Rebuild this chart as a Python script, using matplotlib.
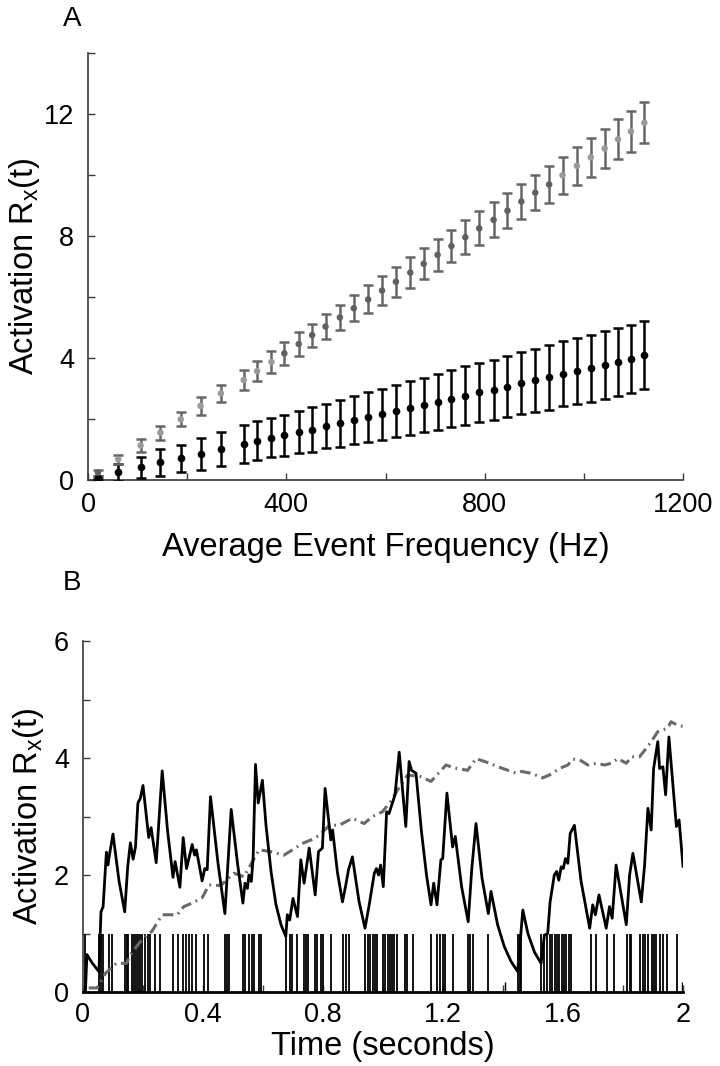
import matplotlib
matplotlib.use("Agg")
import matplotlib.pyplot as plt
from matplotlib.ticker import MultipleLocator

plt.rcParams['font.family'] = ['Liberation Sans', 'DejaVu Sans']
plt.rcParams['mathtext.default'] = 'regular'

# ---------------- Panel A data ----------------
freq_hz = [20, 61, 106, 146, 187, 227, 268, 314, 341, 370, 396, 425, 452, 479, 508, 536,
           565, 593, 621, 650, 677, 705, 733, 761, 789, 818, 846, 874, 902, 930, 957, 986,
           1014, 1042, 1069, 1095, 1122]
gray_mean = [0.24, 0.68, 1.13, 1.55, 1.99, 2.43, 2.84, 3.28, 3.57, 3.87, 4.15, 4.46, 4.75, 5.03,
             5.33, 5.63, 5.92, 6.21, 6.50, 6.80, 7.09, 7.38, 7.67, 7.96, 8.25, 8.53, 8.83, 9.13,
             9.42, 9.69, 9.99, 10.30, 10.58, 10.87, 11.17, 11.43, 11.71]
gray_err = [0.10, 0.15, 0.20, 0.23, 0.23, 0.29, 0.29, 0.32, 0.34, 0.35, 0.38, 0.39, 0.38, 0.40,
            0.41, 0.42, 0.46, 0.48, 0.49, 0.50, 0.51, 0.52, 0.53, 0.55, 0.56, 0.57, 0.57, 0.57,
            0.58, 0.60, 0.60, 0.62, 0.63, 0.64, 0.65, 0.66, 0.67]
black_mean = [0.08, 0.25, 0.42, 0.58, 0.71, 0.85, 1.02, 1.17, 1.28, 1.38, 1.46, 1.56, 1.65, 1.77,
              1.86, 1.97, 2.06, 2.16, 2.27, 2.37, 2.47, 2.57, 2.67, 2.77, 2.87, 2.96, 3.06, 3.17,
              3.27, 3.37, 3.48, 3.57, 3.67, 3.77, 3.87, 3.97, 4.10]
black_err = [0.05, 0.27, 0.35, 0.45, 0.45, 0.53, 0.56, 0.62, 0.64, 0.64, 0.68, 0.69, 0.73, 0.73,
             0.77, 0.79, 0.82, 0.84, 0.85, 0.89, 0.89, 0.92, 0.94, 0.96, 0.98, 0.99, 1.01, 1.02,
             1.03, 1.06, 1.07, 1.08, 1.10, 1.12, 1.13, 1.12, 1.12]
light_idx = [1, 2, 3, 4, 5, 6, 7, 8, 9, 30, 31, 32, 33, 34, 35, 36]

# ---------------- Panel B data ----------------
spike_times = [0.008, 0.053, 0.060, 0.067, 0.088, 0.095, 0.140, 0.145, 0.150, 0.163, 0.170,
               0.176, 0.182, 0.189, 0.196, 0.205, 0.215, 0.224, 0.240, 0.255, 0.300, 0.318,
               0.332, 0.344, 0.353, 0.363, 0.376, 0.404, 0.415, 0.474, 0.480, 0.486, 0.532,
               0.541, 0.553, 0.562, 0.570, 0.585, 0.593, 0.676, 0.689, 0.698, 0.714, 0.735,
               0.743, 0.749, 0.774, 0.781, 0.792, 0.800, 0.826, 0.865, 0.876, 0.887, 0.941,
               0.949, 0.956, 0.965, 0.974, 0.981, 1.001, 1.008, 1.016, 1.023, 1.030, 1.037,
               1.045, 1.074, 1.081, 1.100, 1.160, 1.181, 1.189, 1.200, 1.207, 1.233, 1.284,
               1.290, 1.301, 1.351, 1.449, 1.455, 1.460, 1.528, 1.538, 1.548, 1.556, 1.564,
               1.573, 1.580, 1.587, 1.595, 1.603, 1.611, 1.620, 1.628, 1.692, 1.710, 1.746,
               1.771, 1.814, 1.822, 1.828, 1.858, 1.866, 1.874, 1.882, 1.895, 1.902, 1.911,
               1.922, 1.933, 1.947, 1.981]
short_spike_times = [1.406, 1.998]

trace_t = [0.0, 0.008, 0.013, 0.030, 0.053, 0.060, 0.067, 0.078, 0.083, 0.088, 0.100, 0.120,
           0.139, 0.149, 0.158, 0.167, 0.175, 0.183, 0.191, 0.200, 0.219, 0.227, 0.244, 0.264,
           0.282, 0.300, 0.307, 0.323, 0.334, 0.345, 0.364, 0.372, 0.378, 0.397, 0.406, 0.414,
           0.425, 0.450, 0.473, 0.494, 0.515, 0.533, 0.540, 0.548, 0.553, 0.561, 0.567, 0.575,
           0.584, 0.598, 0.610, 0.627, 0.643, 0.660, 0.676, 0.681, 0.689, 0.700, 0.715, 0.726,
           0.737, 0.754, 0.774, 0.785, 0.798, 0.807, 0.826, 0.832, 0.848, 0.865, 0.876, 0.885,
           0.898, 0.920, 0.940, 0.954, 0.971, 0.978, 0.985, 0.992, 1.001, 1.012, 1.020, 1.040,
           1.054, 1.076, 1.087, 1.095, 1.110, 1.128, 1.145, 1.160, 1.169, 1.180, 1.193, 1.199,
           1.213, 1.232, 1.241, 1.262, 1.284, 1.296, 1.310, 1.330, 1.351, 1.360, 1.382, 1.404,
           1.427, 1.449, 1.466, 1.483, 1.505, 1.527, 1.538, 1.549, 1.557, 1.571, 1.579, 1.586,
           1.594, 1.601, 1.608, 1.616, 1.624, 1.638, 1.660, 1.689, 1.699, 1.708, 1.720, 1.744,
           1.755, 1.764, 1.777, 1.811, 1.822, 1.833, 1.861, 1.872, 1.883, 1.894, 1.902, 1.916,
           1.922, 1.933, 1.942, 1.953, 1.978, 1.987, 2.000]
trace_v = [0.0, 0.0, 0.64, 0.50, 0.35, 1.37, 1.46, 2.39, 2.17, 2.34, 2.70, 1.90,
           1.37, 2.14, 2.55, 2.27, 2.48, 3.23, 3.31, 3.53, 2.64, 2.81, 2.21, 3.78,
           2.75, 1.96, 2.23, 1.79, 2.64, 2.11, 2.52, 2.34, 2.43, 1.90, 2.11, 2.09,
           3.34, 2.20, 1.34, 3.12, 2.20, 1.52, 1.86, 1.77, 2.00, 1.89, 2.28, 3.89,
           3.23, 3.62, 2.85, 2.05, 1.50, 1.15, 0.95, 1.32, 1.23, 1.60, 1.29, 2.26,
           1.86, 2.46, 1.66, 2.40, 2.46, 3.48, 2.60, 2.77, 2.05, 1.54, 1.83, 2.09,
           2.31, 1.55, 1.09, 1.49, 2.03, 2.11, 2.00, 2.17, 1.80, 3.08, 3.05, 3.37,
           4.10, 2.83, 3.94, 3.79, 3.74, 2.75, 2.00, 1.49, 1.86, 1.49, 2.26, 2.28,
           3.40, 2.48, 2.66, 1.80, 1.20, 2.11, 2.88, 1.95, 1.34, 1.72, 1.15, 0.78,
           0.52, 0.35, 1.40, 1.00, 0.68, 0.49, 0.97, 1.00, 1.54, 2.00, 2.06, 1.91,
           2.14, 2.11, 2.28, 2.20, 2.71, 2.85, 1.90, 1.09, 1.49, 1.32, 1.66, 1.09,
           1.46, 1.26, 2.17, 1.15, 2.00, 2.37, 1.54, 2.17, 3.14, 2.77, 3.82, 4.28,
           3.82, 3.85, 3.37, 4.36, 2.83, 2.94, 2.15]

mean_t = [0.019, 0.047, 0.075, 0.111, 0.145, 0.158, 0.191, 0.230, 0.264, 0.314, 0.336, 0.364,
          0.397, 0.420, 0.459, 0.503, 0.537, 0.570, 0.587, 0.625, 0.670, 0.698, 0.732, 0.760,
          0.788, 0.821, 0.854, 0.898, 0.937, 0.965, 0.998, 1.029, 1.048, 1.082, 1.126, 1.160,
          1.210, 1.238, 1.282, 1.310, 1.350, 1.394, 1.444, 1.461, 1.494, 1.532, 1.555, 1.588,
          1.616, 1.633, 1.655, 1.683, 1.711, 1.739, 1.761, 1.783, 1.811, 1.828, 1.855, 1.878,
          1.894, 1.916, 1.949, 1.960, 1.982, 2.000]
mean_v = [0.07, 0.07, 0.32, 0.49, 0.49, 0.64, 0.86, 1.04, 1.32, 1.32, 1.46, 1.52,
          1.61, 1.83, 1.82, 2.03, 1.97, 2.28, 2.43, 2.40, 2.34, 2.43, 2.54, 2.60,
          2.68, 2.85, 2.85, 2.97, 2.88, 3.00, 3.08, 3.28, 3.45, 3.71, 3.68, 3.60,
          3.88, 3.83, 3.79, 3.99, 3.92, 3.83, 3.74, 3.77, 3.74, 3.66, 3.71, 3.82,
          3.88, 3.98, 3.97, 3.88, 3.91, 3.88, 3.91, 3.99, 3.91, 4.02, 4.02, 4.17,
          4.28, 4.45, 4.51, 4.62, 4.56, 4.54]

# ---------------- Figure ----------------
fig = plt.figure(figsize=(7.2, 10.66), dpi=100)
TICK_FS = 19.5
LABEL_FS = 23.5
SPINE_C = '#3a3a3a'

def style_axes(ax, bottom_color=SPINE_C, bottom_lw=1.2, xpad=9):
    for s in ('top', 'right'):
        ax.spines[s].set_visible(False)
    ax.spines['left'].set_color(SPINE_C)
    ax.spines['left'].set_linewidth(1.2)
    ax.spines['bottom'].set_color(bottom_color)
    ax.spines['bottom'].set_linewidth(bottom_lw)
    ax.tick_params(which='both', direction='in', length=5, width=1.0, color=SPINE_C,
                   labelsize=TICK_FS)
    ax.tick_params(axis='x', which='both', pad=xpad)
    ax.tick_params(axis='y', which='both', pad=10)

# Panel A
axA = fig.add_axes([88 / 720, 1 - 480 / 1066, (683 - 88) / 720, (480 - 53) / 1066])
axA.errorbar(freq_hz, black_mean, yerr=black_err, fmt='o', color='black', ms=4.5,
             elinewidth=1.8, capsize=3.5, capthick=1.8, zorder=3)
axA.errorbar(freq_hz, gray_mean, yerr=gray_err, fmt='none', ecolor='#666666',
             elinewidth=1.8, capsize=3.5, capthick=1.8, zorder=3)
marker_cols = ['#9a9a9a' if i in light_idx else '#606060' for i in range(len(freq_hz))]
axA.scatter(freq_hz, gray_mean, s=22, c=marker_cols, zorder=4, linewidths=0)
axA.set_xlim(0, 1200)
axA.set_ylim(0, 14)
axA.xaxis.set_major_locator(MultipleLocator(400))
axA.xaxis.set_minor_locator(MultipleLocator(200))
axA.yaxis.set_major_locator(MultipleLocator(4))
axA.yaxis.set_minor_locator(MultipleLocator(2))
style_axes(axA, xpad=9)
axA.set_xlabel('Average Event Frequency (Hz)', fontsize=LABEL_FS, labelpad=10)
axA.set_ylabel('Activation R$_x$(t)', fontsize=LABEL_FS, labelpad=1)
fig.text(72 / 720, 1 - 19 / 1066, 'A', fontsize=20, ha='center', va='center')

# Panel B
axB = fig.add_axes([83 / 720, 1 - 992 / 1066, (683 - 83) / 720, (992 - 641) / 1066])
axB.vlines(spike_times, 0, 1, color='black', lw=1.3, zorder=2)
axB.vlines(short_spike_times, 0, 0.17, color='black', lw=1.0, zorder=2)
axB.plot(mean_t, mean_v, color='#6a6a6a', lw=2.2, dashes=(3.5, 1.6, 0.6, 1.6), zorder=3)
axB.plot(trace_t, trace_v, color='black', lw=2.0, zorder=4)
axB.set_xlim(0, 2)
axB.set_ylim(0, 6)
axB.xaxis.set_minor_locator(MultipleLocator(0.2))
axB.yaxis.set_major_locator(MultipleLocator(2))
axB.yaxis.set_minor_locator(MultipleLocator(1))
axB.set_xticks([0, 0.4, 0.8, 1.2, 1.6, 2.0])
axB.set_xticklabels(['0', '0.4', '0.8', '1.2', '1.6', '2'])
style_axes(axB, bottom_color='black', bottom_lw=2.0, xpad=7)
axB.spines['bottom'].set_zorder(5)
axB.set_xlabel('Time (seconds)', fontsize=LABEL_FS, labelpad=2)
axB.set_ylabel('Activation R$_x$(t)', fontsize=LABEL_FS, labelpad=6)
fig.text(72 / 720, 1 - 583 / 1066, 'B', fontsize=20, ha='center', va='center')

fig.savefig('out.png', dpi=100)
